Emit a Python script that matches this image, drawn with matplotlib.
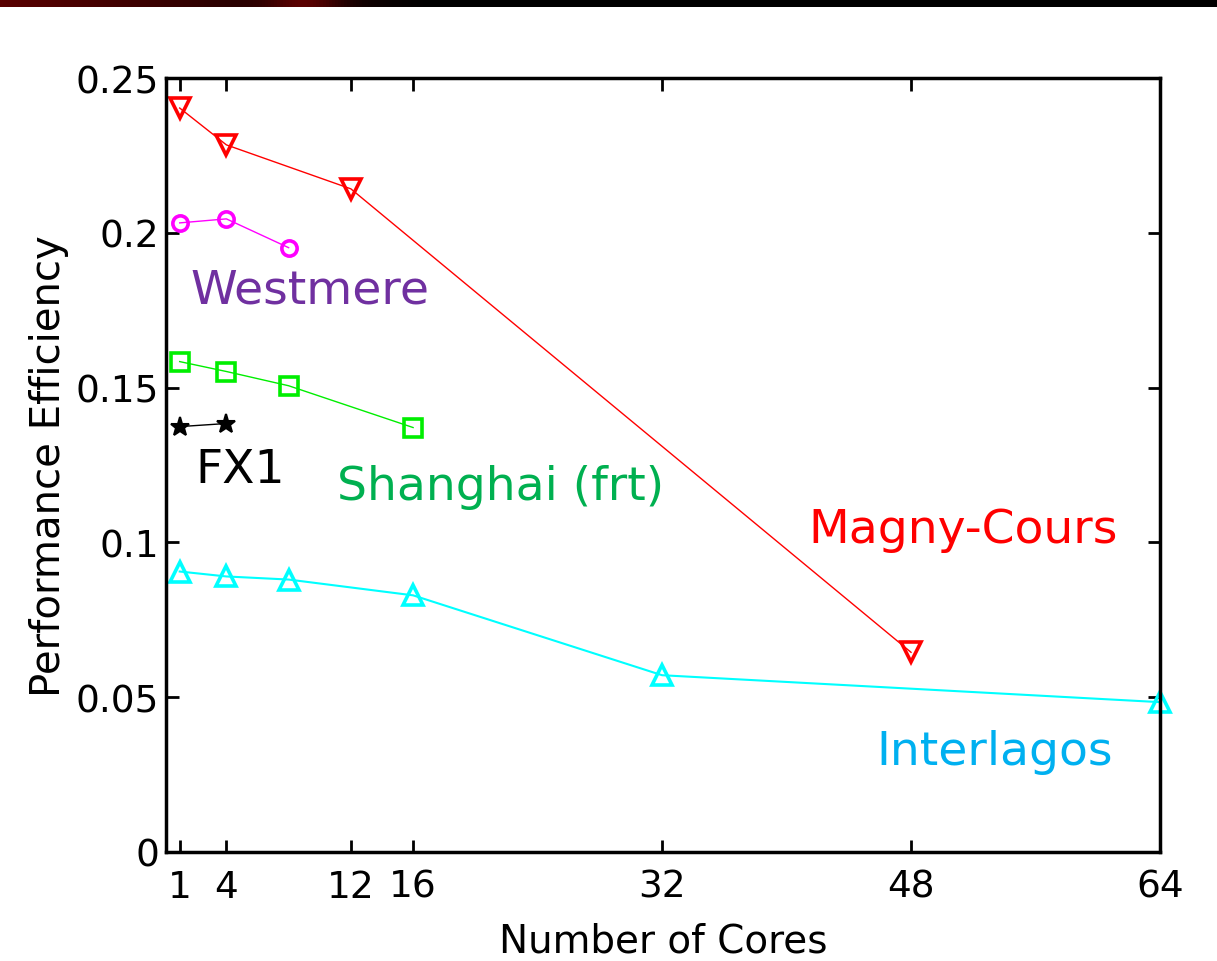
import numpy as np
import matplotlib
matplotlib.use("Agg")
import matplotlib.pyplot as plt

# data
magny_x = [1, 4, 12, 48]
magny_y = [0.2403, 0.2284, 0.2142, 0.0645]

westmere_x = [1, 4, 8]
westmere_y = [0.2032, 0.2045, 0.1952]

shanghai_x = [1, 4, 8, 16]
shanghai_y = [0.1584, 0.1552, 0.1506, 0.1371]

fx1_x = [1, 4]
fx1_y = [0.1374, 0.1384]

interlagos_x = [1, 4, 8, 16, 32, 64]
interlagos_y = [0.0906, 0.0890, 0.0880, 0.0829, 0.0571, 0.0484]

xtick_vals = [1, 4, 12, 16, 32, 48, 64]
ytick_vals = [0, 0.05, 0.1, 0.15, 0.2, 0.25]
ytick_labels = ["0", "0.05", "0.1", "0.15", "0.2", "0.25"]

W, H = 1217, 962
fig = plt.figure(figsize=(W / 100, H / 100), dpi=100)

# dark banner strip at the very top
band = fig.add_axes([0, 1 - 8 / H, 1, 8 / H])
grad = np.zeros((1, 400, 3))
xs = np.linspace(0, 1, 400)
red = 0.35 * np.clip(1 - xs / 0.35, 0, 1) + 0.25 * np.exp(-((xs - 0.25) / 0.03) ** 2)
grad[0, :, 0] = red
band.imshow(grad, aspect="auto", extent=[0, 1, 0, 1])
band.axis("off")

ax = fig.add_axes([166 / W, 1 - 853 / H, (1160 - 166) / W, (853 - 79) / H])

lw = 1.0
mew = 2.6
ax.plot(magny_x, magny_y, color="#ff0000", lw=lw, marker="v", ms=15,
        mfc="none", mec="#ff0000", mew=mew)
ax.plot(westmere_x, westmere_y, color="#ff00ff", lw=lw, marker="o", ms=11,
        mfc="none", mec="#ff00ff", mew=mew)
ax.plot(shanghai_x, shanghai_y, color="#00ee00", lw=lw, marker="s", ms=13,
        mfc="none", mec="#00ee00", mew=mew)
ax.plot(fx1_x, fx1_y, color="black", lw=lw, marker="*", ms=14,
        mfc="black", mec="black", mew=1.5)
ax.plot(interlagos_x, interlagos_y, color="#00ffff", lw=1.5, marker="^", ms=14,
        mfc="none", mec="#00ffff", mew=mew, clip_on=False)

ax.set_xlim(0.12, 64)
ax.set_ylim(0, 0.25)
ax.set_xticks(xtick_vals)
ax.set_xticklabels([str(v) for v in xtick_vals])
ax.set_yticks(ytick_vals)
ax.set_yticklabels(ytick_labels)

ax.tick_params(direction="in", length=9, width=2, top=True, right=True,
               labelsize=27)
ax.tick_params(axis="x", pad=12)
ax.tick_params(axis="y", pad=5)
for s in ax.spines.values():
    s.set_linewidth(2.5)

ax.set_xlabel("Number of Cores", fontsize=28, labelpad=12)
ax.set_ylabel("Performance Efficiency", fontsize=29, labelpad=5)

lab = dict(fontsize=34, family="DejaVu Sans", va="center")
ax.text(1.67, 0.1816, "Westmere", color="#7030a0", ha="left", **lab)
ax.text(2.0, 0.1235, "FX1", color="black", ha="left", **lab)
ax.text(11.1, 0.1180, "Shanghai (frt)", color="#00b050", ha="left", **lab)
ax.text(41.4, 0.1042, "Magny-Cours", color="#ff0000", ha="left", **lab)
ax.text(61.0, 0.0323, "Interlagos", color="#00b0f0", ha="right", **lab)

fig.savefig("out.png", dpi=100)
